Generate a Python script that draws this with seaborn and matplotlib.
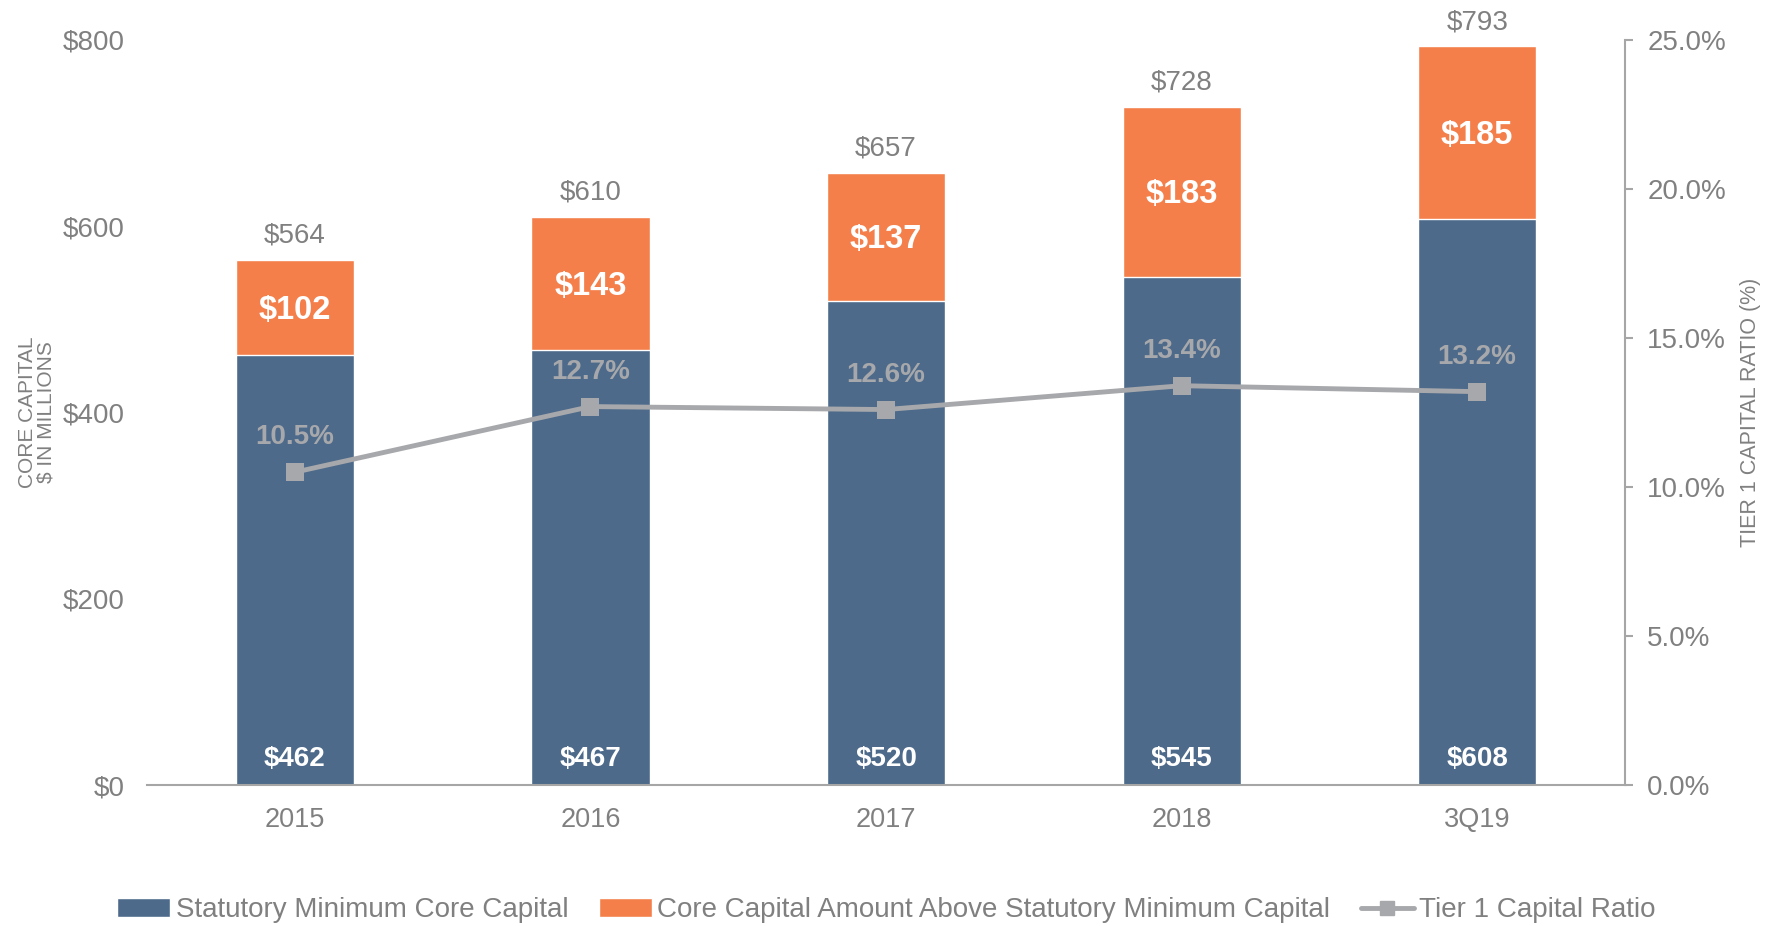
import matplotlib
matplotlib.use("Agg")
import matplotlib.pyplot as plt
from matplotlib.patches import Patch
from matplotlib.lines import Line2D
import numpy as np
import pandas as pd
import seaborn as sns

periods = ['2015', '2016', '2017', '2018', '3Q19']
statutory_min = [462, 467, 520, 545, 608]
above_min = [102, 143, 137, 183, 185]
totals = [564, 610, 657, 728, 793]
tier1_ratio = [10.5, 12.7, 12.6, 13.4, 13.2]

NAVY = '#4d6a8a'
ORANGE = '#f47f4b'
LINE_GRAY = '#a7a8ab'
TEXT_GRAY = '#808080'
AXIS_GRAY = '#a6a6a6'


def plot_chart():
    sns.set_style('white')
    plt.rcParams['font.family'] = ['Liberation Sans', 'DejaVu Sans']

    df = pd.DataFrame({'period': periods, 'base': statutory_min,
                       'above': above_min, 'total': totals, 'ratio': tier1_ratio})

    fig = plt.figure(figsize=(17.73, 9.26), dpi=100)
    ax = fig.add_axes([0.083, 0.152, 0.8335, 0.805])

    # stacked bars: totals in orange underneath, base in navy on top
    sns.barplot(data=df, x='period', y='total', color=ORANGE, width=0.4,
                saturation=1, ax=ax)
    sns.barplot(data=df, x='period', y='base', color=NAVY, width=0.4,
                saturation=1, ax=ax)

    ax.set_xlim(-0.5, 4.5)
    ax.set_ylim(0, 800)
    ax.set_yticks([0, 200, 400, 600, 800])
    ax.set_yticklabels([f'${v}' for v in [0, 200, 400, 600, 800]])
    ax.set_xlabel('')
    ax.set_ylabel('CORE CAPITAL\n$ IN MILLIONS', color=TEXT_GRAY, fontsize=15,
                  labelpad=5, linespacing=1.0)
    ax.tick_params(axis='y', length=0, pad=16, labelsize=20, labelcolor=TEXT_GRAY)
    ax.tick_params(axis='x', length=0, pad=16, labelsize=19.5, labelcolor=TEXT_GRAY)
    for s in ['left', 'top', 'right']:
        ax.spines[s].set_visible(False)
    ax.spines['bottom'].set_color(AXIS_GRAY)
    ax.spines['bottom'].set_linewidth(1.5)

    for i, row in df.iterrows():
        ax.annotate(f"${row['total']}", (i, row['total']), xytext=(0, 8),
                    textcoords='offset points', ha='center', va='bottom',
                    fontsize=20, color=TEXT_GRAY)
        ax.annotate(f"${row['above']}", (i, row['base'] + row['above'] / 2),
                    xytext=(0, -2), textcoords='offset points',
                    ha='center', va='center', fontsize=23.5, fontweight='bold',
                    color='white')
        ax.annotate(f"${row['base']}", (i, 0), xytext=(0, 19),
                    textcoords='offset points', ha='center', va='center',
                    fontsize=20, fontweight='bold', color='white')

    ax2 = ax.twinx()
    sns.lineplot(data=df, x='period', y='ratio', sort=False, color=LINE_GRAY,
                 linewidth=3.5, marker='s', markersize=13, markeredgewidth=0,
                 ax=ax2)
    ax2.set_ylim(0, 25)
    ax2.set_yticks([0, 5, 10, 15, 20, 25])
    ax2.set_yticklabels([f'{v:.1f}%' for v in [0, 5, 10, 15, 20, 25]])
    ax2.set_ylabel('TIER 1 CAPITAL RATIO (%)', color=TEXT_GRAY, fontsize=15.5,
                   labelpad=10)
    ax2.tick_params(axis='y', direction='out', length=6, width=1.5,
                    color=AXIS_GRAY, pad=10, labelsize=20, labelcolor=TEXT_GRAY)
    for s in ['left', 'top', 'bottom']:
        ax2.spines[s].set_visible(False)
    ax2.spines['right'].set_color(AXIS_GRAY)
    ax2.spines['right'].set_linewidth(1.5)
    ax2.set_xlim(-0.5, 4.5)

    for i, row in df.iterrows():
        ax2.annotate(f"{row['ratio']:.1f}%", (i, row['ratio']), xytext=(0, 25),
                     textcoords='offset points', ha='center', va='center',
                     fontsize=20, fontweight='bold', color=LINE_GRAY)

    handles = [
        Patch(facecolor=NAVY, label='Statutory Minimum Core Capital'),
        Patch(facecolor=ORANGE, label='Core Capital Amount Above Statutory Minimum Capital'),
        Line2D([0], [0], color=LINE_GRAY, linewidth=3.5, marker='s',
               markersize=10, label='Tier 1 Capital Ratio'),
    ]
    leg = fig.legend(handles=handles, loc='center', bbox_to_anchor=(0.5, 0.017),
                     ncol=3, frameon=False, handlelength=1.9,
                     handleheight=0.7, handletextpad=0.2, columnspacing=1.1,
                     prop={'family': ['Liberation Sans'], 'size': 20})
    for t in leg.get_texts():
        t.set_color(TEXT_GRAY)

    fig.savefig('out.png', dpi=100)


plot_chart()
